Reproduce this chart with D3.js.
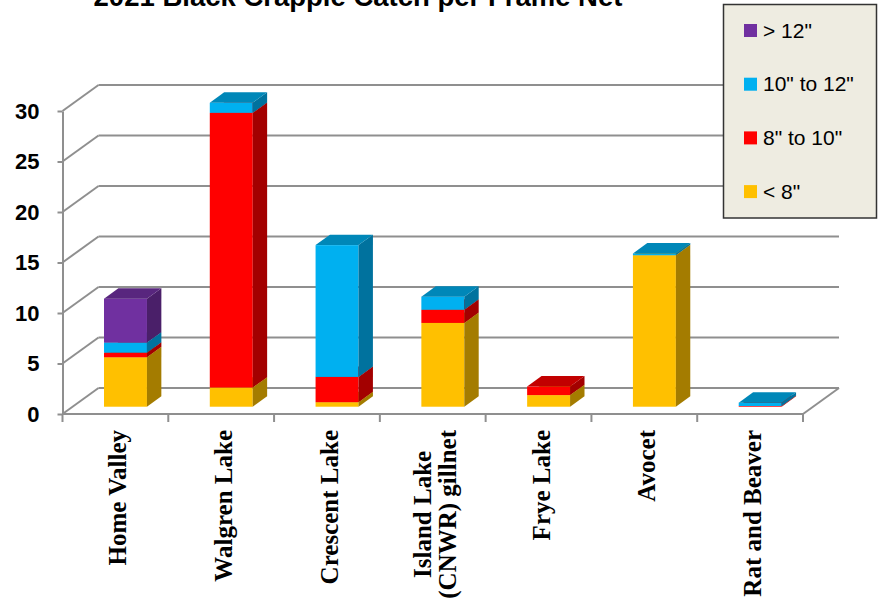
<!DOCTYPE html>
<html>
<head>
<meta charset="utf-8">
<script src="https://cdn.jsdelivr.net/npm/d3@7"></script>
<style>
  html, body { margin: 0; padding: 0; background: #ffffff; }
  svg { display: block; }
</style>
</head>
<body>
<svg id="chart" width="878" height="600"></svg>
<script>
// ---- data ----
const title = "2021 Black Crappie Catch per Frame Net";
const categories = ["Home Valley", "Walgren Lake", "Crescent Lake", "Island Lake\n(CNWR) gillnet", "Frye Lake", "Avocet", "Rat and Beaver"];
const seriesNames = ["< 8\"", "8\" to 10\"", "10\" to 12\"", "> 12\""];
const under8    = [4.9, 1.9, 0.45, 8.3, 1.15, 15.0, 0];
const from8to10 = [0.45, 27.2, 2.5, 1.3, 0.85, 0, 0.07];
const from10to12 = [1.0, 1.0, 13.05, 1.3, 0, 0.17, 0.33];
const over12    = [4.35, 0, 0, 0, 0, 0, 0];
const yTicks = [0, 5, 10, 15, 20, 25, 30];

// ---- styles ----
const frontColors = ["#FFC000", "#FF0000", "#00B0F0", "#7030A0"];
const sideColors  = ["#A47C00", "#A30000", "#00729E", "#4A1F69"];
const topColors   = ["#CC9A00", "#C20000", "#0087B8", "#58267E"];
const gridColor = "#8f8f8f";

const svg = d3.select("#chart");

// ---- geometry ----
const x0 = 62.5, x1 = 803, yFront0 = 414, yFront30 = 111;
const depth = { dx: 36, dy: -26 };
const barT0 = 0.28, barDepth = 0.4, barFrac = 0.406;

const x = d3.scaleBand().domain(categories).range([x0, x1]).padding(0);
const y = d3.scaleLinear().domain([0, 30]).range([yFront0, yFront30]);

const series = [under8, from8to10, from10to12, over12];

// ---- walls / grid ----
const grid = svg.append("g").attr("stroke", gridColor).attr("stroke-width", 2).attr("fill", "none");
yTicks.forEach(v => {
  const yf = y(v), yb = y(v) + depth.dy;
  grid.append("line").attr("x1", x0).attr("y1", yf).attr("x2", x0 + depth.dx).attr("y2", yb);
  grid.append("line").attr("x1", x0 + depth.dx).attr("y1", yb).attr("x2", x1 + depth.dx).attr("y2", yb);
});
grid.append("line").attr("x1", x0).attr("y1", y(0)).attr("x2", x1).attr("y2", y(0));
grid.append("line").attr("x1", x1).attr("y1", y(0)).attr("x2", x1 + depth.dx).attr("y2", y(0) + depth.dy);
const bounds = categories.map(c => x(c)).concat([x1]);
bounds.forEach(bx => {
  grid.append("line").attr("x1", bx).attr("y1", y(0)).attr("x2", bx).attr("y2", y(0) + 8);
});

// y axis
const yAxis = d3.axisLeft(y).tickValues(yTicks).tickSize(5).tickSizeOuter(0).tickPadding(18);
const ya = svg.append("g").attr("transform", `translate(${x0},0)`).call(yAxis);
ya.select(".domain").attr("stroke", gridColor).attr("stroke-width", 2);
ya.selectAll(".tick line").attr("stroke", gridColor).attr("stroke-width", 2);
ya.selectAll(".tick text")
  .attr("font-family", "'Liberation Sans', Arial, sans-serif")
  .attr("font-weight", "bold")
  .attr("font-size", 22)
  .attr("fill", "#000");

// ---- bars ----
const bars = svg.append("g");
const ox = barT0 * depth.dx, oy = barT0 * depth.dy;
const ddx = barDepth * depth.dx, ddy = barDepth * depth.dy;
categories.forEach((c, i) => {
  const bw = x.bandwidth() * barFrac;
  const bx0 = x(c) + (x.bandwidth() - bw) / 2 + ox;
  const bx1 = bx0 + bw;
  let cum = 0;
  series.forEach((s, k) => {
    const v = s[i];
    if (!v) return;
    const yb = y(cum) + oy, yt = y(cum + v) + oy;
    cum += v;
    bars.append("rect").attr("x", bx0).attr("y", yt).attr("width", bw).attr("height", yb - yt)
      .attr("fill", frontColors[k]);
    bars.append("path")
      .attr("d", `M${bx1},${yb}L${bx1 + ddx},${yb + ddy}L${bx1 + ddx},${yt + ddy}L${bx1},${yt}Z`)
      .attr("fill", sideColors[k]);
    bars.append("path")
      .attr("d", `M${bx0},${yt}L${bx1},${yt}L${bx1 + ddx},${yt + ddy}L${bx0 + ddx},${yt + ddy}Z`)
      .attr("fill", topColors[k]);
  });
});

// ---- category labels ----
const labG = svg.append("g")
  .attr("font-family", "'Liberation Serif', 'Times New Roman', serif")
  .attr("font-weight", "bold")
  .attr("font-size", 25)
  .attr("fill", "#000");
categories.forEach(c => {
  const lines = c.split("\n");
  const cx = x(c) + x.bandwidth() / 2;
  const g = labG.append("g").attr("transform", `translate(${cx},430) rotate(-90)`);
  const texts = lines.map((ln, j) => g.append("text").text(ln)
    .attr("y", 11 + (j - (lines.length - 1) / 2) * 25));
  const maxLen = d3.max(texts, t => t.node().getComputedTextLength());
  texts.forEach(t => t.attr("x", -maxLen / 2).attr("text-anchor", "middle"));
});

// ---- title (cut off at the top edge, as in the reference) ----
svg.append("text")
  .attr("x", 358).attr("y", 6)
  .attr("text-anchor", "middle")
  .attr("font-family", "'Liberation Sans', Arial, sans-serif")
  .attr("font-weight", "bold")
  .attr("font-size", 27.5)
  .attr("fill", "#000")
  .text(title);

// ---- legend ----
const leg = svg.append("g");
leg.append("rect").attr("x", 723.5).attr("y", 4.5).attr("width", 153).attr("height", 213.5)
  .attr("fill", "#EEECE1").attr("stroke", "#333").attr("stroke-width", 1.5);
const legOrder = [3, 2, 1, 0];
legOrder.forEach((k, j) => {
  const cy = 30.5 + j * 53.7;
  leg.append("rect").attr("x", 744).attr("y", cy - 6.5).attr("width", 13).attr("height", 13)
    .attr("fill", frontColors[k]);
  leg.append("text").attr("x", 763).attr("y", cy + 7)
    .attr("font-family", "'Liberation Sans', Arial, sans-serif")
    .attr("font-size", 21)
    .attr("fill", "#000")
    .text(seriesNames[k]);
});
</script>
</body>
</html>
